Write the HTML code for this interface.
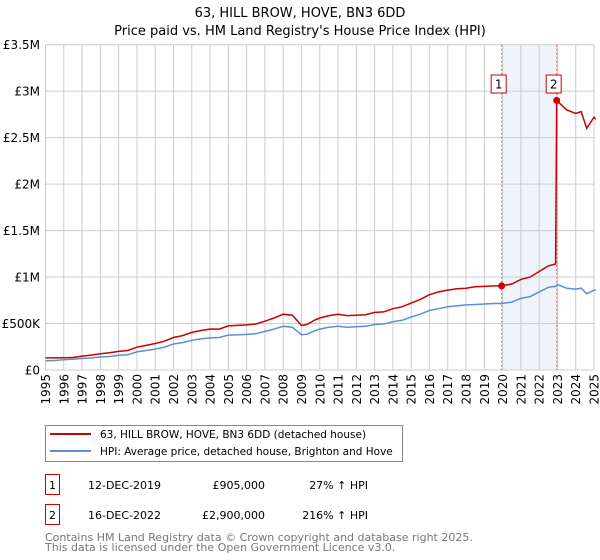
<!DOCTYPE html>
<html><head><meta charset="utf-8"><style>
body{margin:0;background:#fff;font-family:"Liberation Sans","DejaVu Sans",sans-serif;}
#wrap{position:relative;width:600px;height:560px;overflow:hidden}
svg text{font-family:"DejaVu Sans","Liberation Sans",sans-serif}
</style></head><body><div id="wrap">
<svg id="chart" width="600" height="560"></svg>
</div>
<script>
const dates=[1995,1995.5,1996,1996.5,1997,1997.5,1998,1998.5,1999,1999.5,2000,2000.5,2001,2001.5,2002,2002.5,2003,2003.5,2004,2004.5,2005,2005.5,2006,2006.5,2007,2007.5,2008,2008.5,2009,2009.3,2009.7,2010,2010.5,2011,2011.5,2012,2012.5,2013,2013.5,2014,2014.5,2015,2015.5,2016,2016.5,2017,2017.5,2018,2018.5,2019,2019.5,2019.95,2020.5,2021,2021.5,2022,2022.5,2022.9,2023,2023.5,2024,2024.3,2024.6,2025,2025.1];
const hpiValues=[100,102,110,115,125,130,140,145,158,165,195,210,225,245,280,295,320,335,345,350,375,378,383,390,415,440,470,460,380,385,420,440,460,470,460,465,470,490,495,520,535,570,600,640,660,680,690,700,705,710,715,715,730,770,790,840,890,900,920,880,870,880,820,860,860];
const priceValues=[130,130,132,135,150,160,175,185,200,210,245,265,285,310,350,370,405,425,440,440,475,480,485,495,525,560,600,590,480,490,535,560,585,600,585,590,595,620,625,660,680,720,760,810,840,860,875,880,895,900,905,905,925,975,1000,1060,1120,1140,2900,2800,2760,2780,2600,2720,2700];
const saleDates=[2019.95,2022.96];
const salePrices=[905000,2900000];
const yTicks=[0,500000,1000000,1500000,2000000,2500000,3000000,3500000];
const yTickLabels=["£0","£500K","£1M","£1.5M","£2M","£2.5M","£3M","£3.5M"];
const xTicks=[1995,1996,1997,1998,1999,2000,2001,2002,2003,2004,2005,2006,2007,2008,2009,2010,2011,2012,2013,2014,2015,2016,2017,2018,2019,2020,2021,2022,2023,2024,2025];

const NS="http://www.w3.org/2000/svg";
const svg=document.getElementById('chart');
const L=45.5,R=594,T=44.7,B=370;
const xs=d=>L+(d-1995)/30*(R-L);
const ys=v=>B-v/3500000*(B-T);
function mk(tag,attrs,parent){const e=document.createElementNS(NS,tag);for(const k in attrs)e.setAttribute(k,attrs[k]);(parent||svg).appendChild(e);return e;}

let t=mk('text',{x:300,y:17,'text-anchor':'middle','font-size':13,fill:'#000'});t.textContent='63, HILL BROW, HOVE, BN3 6DD';


t=mk('text',{x:300,y:35,'text-anchor':'middle','font-size':13,fill:'#000'});t.textContent="Price paid vs. HM Land Registry's House Price Index (HPI)";



let sh=mk('rect',{x:xs(saleDates[0]),y:T,width:xs(saleDates[1])-xs(saleDates[0]),height:B-T,fill:'#eef3fc'});



xTicks.forEach(yr=>{let l=mk('line',{x1:xs(yr),x2:xs(yr),y1:T,y2:B,stroke:'#cccccc','stroke-width':1});


let tx=mk('text',{x:0,y:0,'font-size':12,fill:'#000','text-anchor':'end',transform:`translate(${xs(yr)+4.5},${B+4}) rotate(-90)`});tx.textContent=yr;

});
yTicks.forEach((v,i)=>{let l=mk('line',{x1:L,x2:R,y1:ys(v),y2:ys(v),stroke:'#cccccc','stroke-width':1});


let tx=mk('text',{x:40,y:ys(v)+4.5,'font-size':12,fill:'#000','text-anchor':'end'});tx.textContent=yTickLabels[i];

});

saleDates.forEach((d,i)=>{let l=mk('line',{x1:xs(d),x2:xs(d),y1:T,y2:B,stroke:'#e06666','stroke-width':1,'stroke-dasharray':'2,2'});


let r=mk('rect',{x:xs(d)-10.5,y:75,width:15,height:18,fill:'#fff',stroke:'#cc0000','stroke-width':1});


let tx=mk('text',{x:xs(d)-3,y:88.5,'font-size':12,'text-anchor':'middle',fill:'#000'});tx.textContent=String(i+1);

});

let hp=mk('path',{d:dates.map((d,i)=>(i?'L':'M')+xs(d).toFixed(1)+','+ys(hpiValues[i]*1000).toFixed(1)).join(''),fill:'none',stroke:'#5b8fd4','stroke-width':1.5});


let pd=dates.map((d,i)=>{let dd=(d===2023)?saleDates[1]:d;return (i?'L':'M')+xs(dd).toFixed(1)+','+ys(priceValues[i]*1000).toFixed(1)}).join('');
let pp=mk('path',{d:pd,fill:'none',stroke:'#cc0000','stroke-width':1.5});


saleDates.forEach((d,i)=>{let c=mk('circle',{cx:xs(d),cy:ys(salePrices[i]),r:3.5,fill:'#cc0000'});

});

let lg=mk('rect',{x:45.5,y:425.5,width:357,height:36,fill:'#fff',stroke:'#888'});


let l1=mk('line',{x1:50,x2:91,y1:434,y2:434,stroke:'#cc0000','stroke-width':2});


let l2=mk('line',{x1:50,x2:91,y1:451,y2:451,stroke:'#5b8fd4','stroke-width':2});


t=mk('text',{x:100,y:438,'font-size':10.5,fill:'#000'});t.textContent='63, HILL BROW, HOVE, BN3 6DD (detached house)';


t=mk('text',{x:100,y:455,'font-size':10.5,fill:'#000'});t.textContent='HPI: Average price, detached house, Brighton and Hove';



const rows=[["1","12-DEC-2019","£905,000","27% ↑ HPI"],["2","16-DEC-2022","£2,900,000","216% ↑ HPI"]];
rows.forEach((r,i)=>{const y=483+i*30;
let b=mk('rect',{x:45.5,y:y-8.5,width:14,height:20,fill:'#fff',stroke:'#cc0000'});


let a=mk('text',{x:52.5,y:y+6,'font-size':11,'text-anchor':'middle'});a.textContent=r[0];


a=mk('text',{x:88,y:y+6,'font-size':11});a.textContent=r[1];


a=mk('text',{x:265,y:y+6,'font-size':11,'text-anchor':'end'});a.textContent=r[2];


a=mk('text',{x:368,y:y+6,'font-size':11,'text-anchor':'end'});a.textContent=r[3];

});
t=mk('text',{x:45,y:541,'font-size':11,fill:'#777'});t.textContent='Contains HM Land Registry data © Crown copyright and database right 2025.';


t=mk('text',{x:45,y:551,'font-size':11,fill:'#777'});t.textContent='This data is licensed under the Open Government Licence v3.0.';


</script></body></html>
